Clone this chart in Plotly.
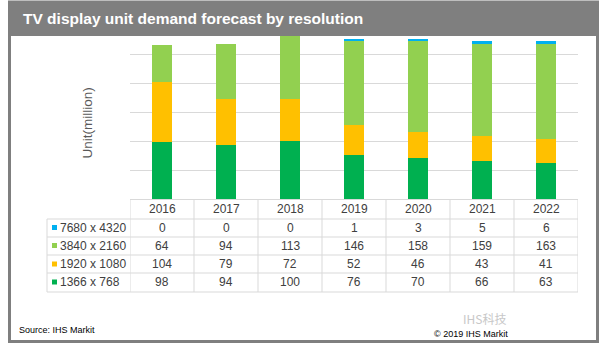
import plotly.graph_objects as go

W, H = 607, 350

years = ["2016", "2017", "2018", "2019", "2020", "2021", "2022"]
series_names = ["7680 x 4320", "3840 x 2160", "1920 x 1080", "1366 x 768"]
res_7680 = [0, 0, 0, 1, 3, 5, 6]
res_3840 = [64, 94, 113, 146, 158, 159, 163]
res_1920 = [104, 79, 72, 52, 46, 43, 41]
res_1366 = [98, 94, 100, 76, 70, 66, 63]
colors = {"7680 x 4320": "#00B0F0", "3840 x 2160": "#92D050",
          "1920 x 1080": "#FFC000", "1366 x 768": "#00B050"}
values = {"7680 x 4320": res_7680, "3840 x 2160": res_3840,
          "1920 x 1080": res_1920, "1366 x 768": res_1366}

FONT = "Liberation Sans, Arial, sans-serif"
TXT = "#404040"
GRID = "#D9D9D9"
FRAME = "#7F7F7F"

def px(x):
    return x / W

def py(y):
    return 1 - y / H

# plot area in pixels
X0, X1, Y0, Y1 = 130, 578, 36, 199
px_per_unit = 0.579
ymax = (Y1 - Y0) / px_per_unit

fig = go.Figure()
for name in ["1366 x 768", "1920 x 1080", "3840 x 2160", "7680 x 4320"]:
    fig.add_trace(go.Bar(x=years, y=values[name], name=name,
                         marker=dict(color=colors[name], line=dict(width=0)),
                         width=0.31, showlegend=False))

shapes = []
annotations = []

# outer frame and title bar
shapes.append(dict(type="rect", xref="paper", yref="paper",
                   x0=px(9.5), x1=px(597.5), y0=py(341.5), y1=py(2),
                   line=dict(color=FRAME, width=3), fillcolor="rgba(0,0,0,0)", layer="above"))
shapes.append(dict(type="rect", xref="paper", yref="paper",
                   x0=px(8), x1=px(599), y0=py(36), y1=py(1),
                   line=dict(width=0), fillcolor=FRAME, layer="above"))
annotations.append(dict(text="<b>TV display unit demand forecast by resolution</b>",
                        xref="paper", yref="paper", x=px(21), y=py(18.5),
                        xanchor="left", yanchor="middle", showarrow=False,
                        font=dict(family=FONT, size=15.5, color="white")))

# table geometry
row_lines = [219, 237, 255, 273, 292]
row_centers = [227.5, 245.5, 264, 282]
header_center = 209
label_left = 47

# horizontal table lines
for yl in row_lines:
    shapes.append(dict(type="line", xref="paper", yref="paper",
                       x0=px(label_left), x1=px(X1), y0=py(yl), y1=py(yl),
                       line=dict(color=GRID, width=1)))
# vertical column lines
for i in range(len(years) + 1):
    shapes.append(dict(type="line", xref="x", yref="paper",
                       x0=i - 0.5, x1=i - 0.5, y0=py(Y1), y1=py(row_lines[-1]),
                       line=dict(color=GRID, width=1)))
shapes.append(dict(type="line", xref="paper", yref="paper",
                   x0=px(label_left), x1=px(label_left), y0=py(row_lines[0]), y1=py(row_lines[-1]),
                   line=dict(color=GRID, width=1)))

# header labels
for i, yr in enumerate(years):
    annotations.append(dict(text=yr, xref="x", yref="paper", x=i, y=py(header_center),
                            xanchor="center", yanchor="middle", showarrow=False,
                            font=dict(family=FONT, size=12, color=TXT)))

# rows
for r, name in enumerate(series_names):
    yc = row_centers[r]
    shapes.append(dict(type="rect", xref="paper", yref="paper",
                       x0=px(52), x1=px(57), y0=py(yc + 2.5), y1=py(yc - 2.5),
                       line=dict(width=0), fillcolor=colors[name]))
    annotations.append(dict(text=name, xref="paper", yref="paper", x=px(57.5), y=py(yc),
                            xanchor="left", yanchor="middle", showarrow=False,
                            font=dict(family=FONT, size=12, color=TXT)))
    for i, v in enumerate(values[name]):
        annotations.append(dict(text=str(v), xref="x", yref="paper", x=i, y=py(yc),
                                xanchor="center", yanchor="middle", showarrow=False,
                                font=dict(family=FONT, size=12, color=TXT)))

# y axis title
annotations.append(dict(text="Unit(million)", xref="paper", yref="paper", x=px(86.5), y=py(123),
                        xanchor="center", yanchor="middle", textangle=-90, showarrow=False,
                        font=dict(family=FONT, size=13.5, color="#595959")))

# footer
annotations.append(dict(text="Source: IHS Markit", xref="paper", yref="paper", x=px(16.5), y=py(330),
                        xanchor="left", yanchor="middle", showarrow=False,
                        font=dict(family=FONT, size=9, color="#000000")))
annotations.append(dict(text="IHS科技", xref="paper", yref="paper", x=px(507), y=py(318),
                        xanchor="right", yanchor="middle", showarrow=False, borderpad=0,
                        font=dict(family="Noto Sans CJK SC, sans-serif", size=12, color="#C8C8C8")))
annotations.append(dict(text="© 2019 IHS Markit", xref="paper", yref="paper", x=px(509), y=py(334),
                        xanchor="right", yanchor="middle", showarrow=False, borderpad=0,
                        font=dict(family=FONT, size=9, color="#000000")))

fig.update_layout(
    width=W, height=H,
    margin=dict(l=0, r=0, t=0, b=0),
    paper_bgcolor="white", plot_bgcolor="white",
    barmode="stack", bargap=0.69,
    xaxis=dict(domain=[px(X0), px(X1)], range=[-0.5, 6.5], type="category",
               showticklabels=False, ticks="", showgrid=False, zeroline=False,
               showline=True, linecolor=GRID, linewidth=1),
    yaxis=dict(domain=[py(Y1), py(Y0)], range=[0, ymax], showticklabels=False,
               ticks="", showgrid=True, gridcolor=GRID, gridwidth=1,
               tick0=0, dtick=50, zeroline=False, showline=False),
    shapes=shapes, annotations=annotations,
    font=dict(family=FONT),
)

fig.write_html("out.html")
